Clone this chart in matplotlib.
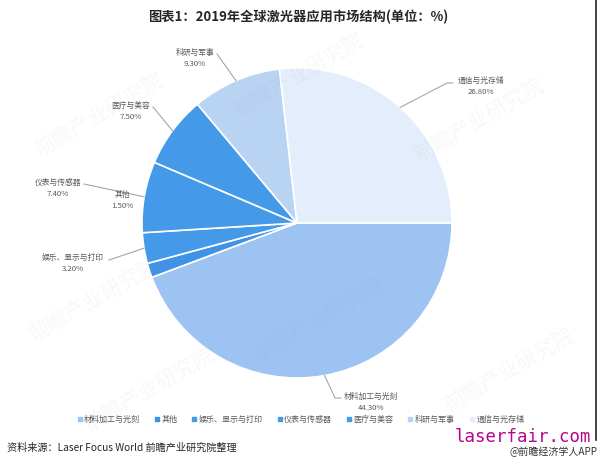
import numpy as np
import matplotlib
matplotlib.use('Agg')
import matplotlib.pyplot as plt
from matplotlib.lines import Line2D

plt.rcParams['font.family'] = ['Noto Sans CJK SC', 'DejaVu Sans']

# data (clockwise from 3 o'clock)
categories = ['材料加工与光刻', '其他', '娱乐、显示与打印', '仪表与传感器',
              '医疗与美容', '科研与军事', '通信与光存储']
shares = [44.3, 1.5, 3.2, 7.4, 7.5, 9.3, 26.8]
colors = ['#9dc3f2', '#3f92e6', '#4599e9', '#4599e9', '#4599e9', '#b9d3f3', '#e3edfb']

W, H = 600, 466
fig = plt.figure(figsize=(6, 4.66), dpi=100)
fig.patch.set_facecolor('white')

def fx(px):
    return px / W

def fy(py):
    return 1 - py / H

# pie placed in pixel terms
cx, cy, r = 297, 223, 155
ax = fig.add_axes([fx(cx - r), fy(cy + r), 2 * r / W, 2 * r / H])
wedges, _ = ax.pie(shares, colors=colors, startangle=0, counterclock=False,
                   radius=1, wedgeprops=dict(edgecolor='white', linewidth=1.2))
ax.set_xlim(-1, 1)
ax.set_ylim(-1, 1)
ax.axis('off')

# label anchor (text centre, px) and leader knee (px); None = no line
label_pos = {
    '材料加工与光刻': ((371, 397), [(335, 398), (341, 398)]),
    '其他': ((122, 195), None),
    '娱乐、显示与打印': ((73, 258), [(109, 260)]),
    '仪表与传感器': ((58, 183), [(84, 184)]),
    '医疗与美容': ((131, 106), [(153, 107)]),
    '科研与军事': ((195, 53), [(217, 54)]),
    '通信与光存储': ((481, 81), [(447, 83), (453, 83)]),
}

for w, name, val in zip(wedges, categories, shares):
    (tx, ty), knee = label_pos[name]
    fig.text(fx(tx), fy(ty), name, ha='center', va='center', fontsize=5.6, color='#595959')
    fig.text(fx(tx), fy(ty + 11), f'{val:.2f}%', ha='center', va='center', fontsize=5.6, color='#595959')
    if knee:
        mid = np.deg2rad((w.theta1 + w.theta2) / 2)
        ex, ey = cx + r * np.cos(mid), cy - r * np.sin(mid)
        pts = [(ex, ey)] + knee
        fig.add_artist(Line2D([fx(p[0]) for p in pts], [fy(p[1]) for p in pts],
                              color='#a6a6a6', lw=0.8))

# title
fig.text(fx(298), fy(17), '图表1：2019年全球激光器应用市场结构(单位：%)', ha='center', va='center',
         fontsize=9.5, fontweight='bold', color='#262626')

# legend
handles = [Line2D([], [], marker='s', ls='none', markersize=2.6, color=c) for c in colors]
fig.legend(handles, categories, loc='center', bbox_to_anchor=(fx(301), fy(419)), ncol=7,
           frameon=False, fontsize=5.8, handlelength=0.5, handletextpad=0.3,
           columnspacing=1.85, labelcolor='#595959')

# source and marks
fig.text(fx(7), fy(448), '资料来源：Laser Focus World 前瞻产业研究院整理', ha='left', va='center',
         fontsize=7.3, color='#262626')
fig.text(fx(591), fy(437), 'laserfair.com', ha='right', va='center', fontsize=12.5,
         family='DejaVu Sans Mono', color='#b4068c')
fig.text(fx(598), fy(452), '@前瞻经济学人APP', ha='right', va='center', fontsize=7.2, color='#333333')

# faint watermarks
for wx, wy in [(100, 115), (300, 75), (480, 120), (95, 300), (320, 320), (510, 370), (150, 390)]:
    fig.text(fx(wx), fy(wy), '前瞻产业研究院', rotation=30, ha='center', va='center',
             fontsize=15, color='#9a9a9a', alpha=0.07, zorder=10)

fig.add_artist(Line2D([fx(596), fx(596)], [fy(0), fy(440)], color='#222222', lw=1.2))

fig.savefig('out.png', dpi=100)
